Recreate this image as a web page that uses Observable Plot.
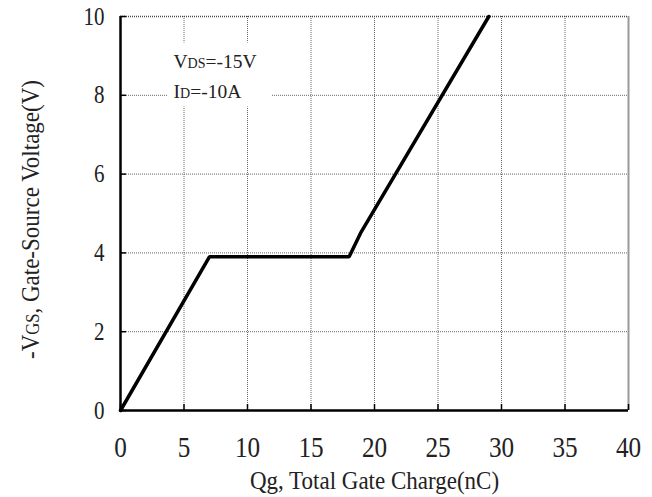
<!DOCTYPE html>
<html><head><meta charset="utf-8">
<script src="https://cdn.jsdelivr.net/npm/d3@7"></script>
<script src="https://cdn.jsdelivr.net/npm/@observablehq/plot@0.6"></script>
<style>
html,body{margin:0;padding:0;background:#fff;}
#chart svg{display:block;}
#chart svg text{font-family:"Liberation Serif","Times New Roman",serif;}
</style></head><body><div id="chart"></div>
<script>
// ---- data ----
const xTicks = [0, 5, 10, 15, 20, 25, 30, 35, 40];
const yTicks = [0, 2, 4, 6, 8, 10];
const qg  = [0, 7, 18, 18.9, 29.0];     // total gate charge (nC)
const vgs = [0, 3.9, 3.9, 4.5, 10];     // -VGS (V)
const condVds = "V{DS}=-15V";
const condId = "I{D}=-10A";
const xLabel = "Qg, Total Gate Charge(nC)";
const yLabel = "-V{GS}, Gate-Source Voltage(V)";

const curve = qg.map((q, i) => ({q, v: vgs[i]}));

const condStyle = {frameAnchor: "top-left", textAnchor: "start", lineAnchor: "bottom", dx: 53, fontSize: 19.5, fill: "#222"};

const chart = Plot.plot({
  width: 652, height: 497,
  marginLeft: 120, marginRight: 24, marginTop: 16, marginBottom: 87,
  style: {fontFamily: "Liberation Serif", background: "#fff", overflow: "visible", color: "black"},
  x: {domain: [0, 40], ticks: xTicks},
  y: {domain: [0, 10], ticks: yTicks},
  marks: [
    Plot.gridX(xTicks.slice(1, -1), {stroke: "#666", strokeOpacity: 1, strokeWidth: 1, strokeDasharray: "1,1"}),
    Plot.gridY(yTicks.slice(1, -1), {stroke: "#666", strokeOpacity: 1, strokeWidth: 1, strokeDasharray: "1,1"}),
    Plot.ruleY([10], {stroke: "#444", strokeWidth: 1.5, strokeDasharray: "1,1"}),
    Plot.ruleX([40], {stroke: "#999", strokeWidth: 2}),
    // white box behind the test-condition note
    Plot.frame({fill: "white", stroke: null, insetLeft: 47, insetRight: 357, insetTop: 26, insetBottom: 304}),
    Plot.text([condVds], {...condStyle, dy: 51}),
    Plot.text([condId], {...condStyle, dy: 81}),
    Plot.line(curve, {x: "q", y: "v", stroke: "black", strokeWidth: 3.5, strokeLinejoin: "miter"}),
    Plot.ruleX([0], {stroke: "black", strokeWidth: 2.5}),
    Plot.ruleY([0], {stroke: "black", strokeWidth: 2.5}),
    Plot.axisX(xTicks, {tickSize: -6, tickFormat: () => "", strokeWidth: 1.5, stroke: "black", label: null}),
    Plot.axisY(yTicks, {tickSize: -6, tickFormat: () => "", strokeWidth: 1.5, stroke: "black", label: null}),
    Plot.axisX(xTicks, {tickSize: 0, tickPadding: 25, fontSize: 30, fill: "#222", label: null}),
    Plot.axisY(yTicks, {tickSize: 0, tickPadding: 16, fontSize: 25, fill: "#222", label: null}),
    Plot.text([xLabel], {frameAnchor: "bottom", textAnchor: "middle", lineAnchor: "bottom", dy: 78, fontSize: 25, fill: "#222"}),
    Plot.text([yLabel], {frameAnchor: "left", textAnchor: "middle", lineAnchor: "bottom", rotate: -90, dx: -82, dy: 6, fontSize: 25, fill: "#222"})
  ]
});

const svg = d3.select(chart);
svg.style("font-family", "'Liberation Serif', 'Times New Roman', serif");

// subscripts rendered as smaller text on the same baseline
svg.selectAll("text").each(function() {
  const t = this.textContent;
  if (!t.includes("{")) return;
  const el = d3.select(this);
  el.selectAll("*").remove();
  el.text(null);
  t.split(/(\{[^}]*\})/).forEach(part => {
    if (!part) return;
    if (part.startsWith("{")) el.append("tspan").style("font-size", "72%").text(part.slice(1, -1));
    else el.append("tspan").text(part);
  });
});

document.getElementById("chart").appendChild(chart);

// the reference typeface is narrower than Times: condense glyphs horizontally
function condense(sel, k) {
  sel.each(function() {
    const len = this.getComputedTextLength();
    if (len > 0) {
      this.setAttribute("textLength", (len * k).toFixed(2));
      this.setAttribute("lengthAdjust", "spacingAndGlyphs");
    }
  });
}
const plain = s => s.replace(/[{}]/g, "");
svg.selectAll("text").each(function() {
  const t = this.textContent;
  const s = d3.select(this);
  if (t === plain(xLabel) || t === plain(yLabel)) condense(s, 0.92);
  else if (/^\d+$/.test(t)) condense(s, 0.84);
});
</script>
</body></html>
